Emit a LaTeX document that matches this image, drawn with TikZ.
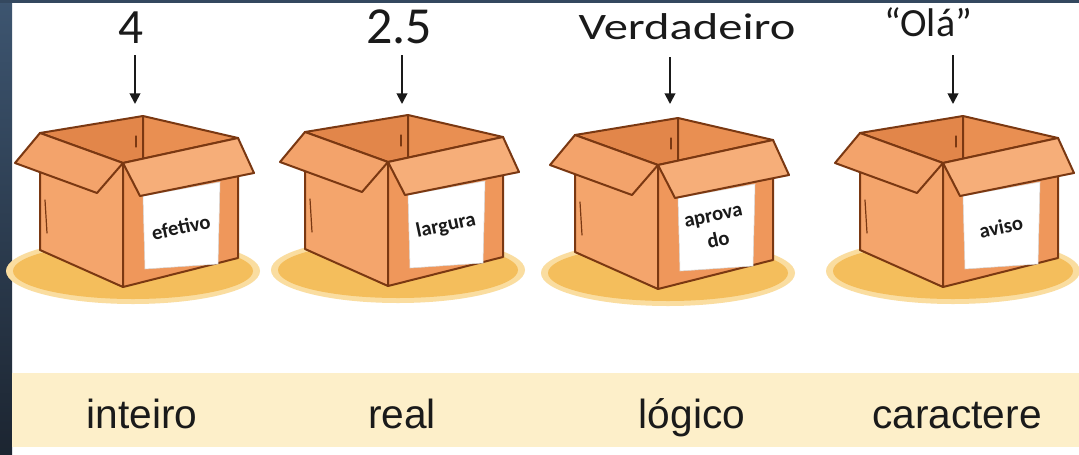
\documentclass[tikz,border=0pt]{standalone}
\usepackage{fontspec}
\setmainfont{Carlito}
\newfontfamily\arialfont{Liberation Sans}
\usetikzlibrary{arrows.meta}

\definecolor{stripTop}{HTML}{3D5570}
\definecolor{stripBot}{HTML}{1C2531}
\definecolor{band}{HTML}{FDEFC9}
\definecolor{boxedge}{HTML}{7A3812}
\definecolor{leftface}{HTML}{F4A56C}
\definecolor{rightface}{HTML}{EF975B}
\definecolor{innerleft}{HTML}{E2864A}
\definecolor{innerright}{HTML}{E98F52}
\definecolor{leftflap}{HTML}{F3A36B}
\definecolor{rightflap}{HTML}{F6AE79}
\definecolor{shadowfill}{HTML}{F4BE5C}
\definecolor{shadowsoft}{HTML}{FADDA0}
\definecolor{inkgray}{HTML}{1A1A1A}

\tikzset{
  boxline/.style={draw=boxedge, line width=1.5pt, line join=round},
  crease/.style={draw=boxedge, line width=0.9pt, line cap=round},
  valtext/.style={anchor=base, inner sep=0pt, text=inkgray},
  typetext/.style={anchor=base, inner sep=0pt, text=inkgray,
    font=\arialfont\fontsize{30.5}{34}\selectfont},
  boxtag/.style={inner sep=0pt, align=center, rotate=12, text=inkgray,
    font=\bfseries\fontsize{15.5}{19}\selectfont},
  valarrow/.style={draw=inkgray, line width=1.4pt,
    -{Triangle[width=8pt,length=8pt]}},
  % an open cardboard box; the origin is the front top corner
  pics/cbox/.style={code={
    \fill[shadowsoft] (10,108) ellipse [x radius=127, y radius=33];
    \fill[shadowfill] (10,108) ellipse [x radius=120, y radius=28];
    % outer faces
    \path[boxline, fill=leftface]  (-83,-30) -- (0,0) -- (0,124) -- (-83,87) -- cycle;
    \path[boxline, fill=rightface] (0,0) -- (115,-25) -- (115,95) -- (0,124) -- cycle;
    % inside walls seen through the opening
    \path[boxline, fill=innerleft]  (-83,-30) -- (20,-47) -- (20,-4.3) -- (0,0) -- cycle;
    \path[boxline, fill=innerright] (20,-47) -- (115,-25) -- (20,-4.3) -- cycle;
    \draw[crease] (13,-27) -- (13,-16);
    \draw[crease] (-78,37) -- (-76,70);
    % name tag on the right face
    \path[fill=white, draw=black!15, line width=0.4pt]
      (20,33) -- (97,19) -- (95,101) -- (22,106) -- cycle;
    \node[boxtag] (-tag) at (58,64) {#1};
    % open flaps
    \path[boxline, fill=leftflap]  (-83,-30) -- (0,0) -- (-26,30) -- (-108,0) -- cycle;
    \path[boxline, fill=rightflap] (0,0) -- (115,-25) -- (131,10) -- (17,33) -- cycle;
  }}
}

\begin{document}
\begin{tikzpicture}[x=0.75pt, y=-0.75pt]
\useasboundingbox (0,0) rectangle (1079,454);
\fill[white] (0,0) rectangle (1079,454);

% frame strips
\shade[top color=stripTop, bottom color=stripBot] (0,0) rectangle (12,454);
\fill[stripTop!85!black] (0,0) rectangle (1079,3);

% type band
\fill[band] (12,373) rectangle (1079,447);

% boxes
\pic (b1) at (123,163) {cbox={efetivo}};
\pic (b2) at (388,162) {cbox={largura}};
\pic (b3) at (658,165) {cbox={aprova\\do}};
\pic (b4) at (943,163) {cbox={aviso}};

% values
\node[valtext, font=\fontsize{37}{40}\selectfont] (v1) at (131,43) {4};
\node[valtext, font=\fontsize{39}{42}\selectfont] (v2) at (399,43) {2.5};
\node[valtext, font=\fontsize{28}{30}\selectfont] (v3) at (687,39) {\scalebox{1.3}[1]{Verdadeiro}};
\node[valtext, font=\fontsize{30}{32}\selectfont] (v4) at (928,36) {“Olá”};

% arrows into the boxes
\coordinate (a1s) at (135,55);  \coordinate (a1e) at (135,104);
\coordinate (a2s) at (402,55);  \coordinate (a2e) at (402,104);
\coordinate (a3s) at (670,57);  \coordinate (a3e) at (670,104);
\coordinate (a4s) at (953,55);  \coordinate (a4e) at (953,104);
\draw[valarrow] (a1s) -- (a1e);
\draw[valarrow] (a2s) -- (a2e);
\draw[valarrow] (a3s) -- (a3e);
\draw[valarrow] (a4s) -- (a4e);

% type names
\node[typetext] (t1) at (142,428) {inteiro};
\node[typetext] (t2) at (402,428) {real};
\node[typetext] (t3) at (692,428) {lógico};
\node[typetext] (t4) at (957,428) {caractere};
\end{tikzpicture}
\end{document}
